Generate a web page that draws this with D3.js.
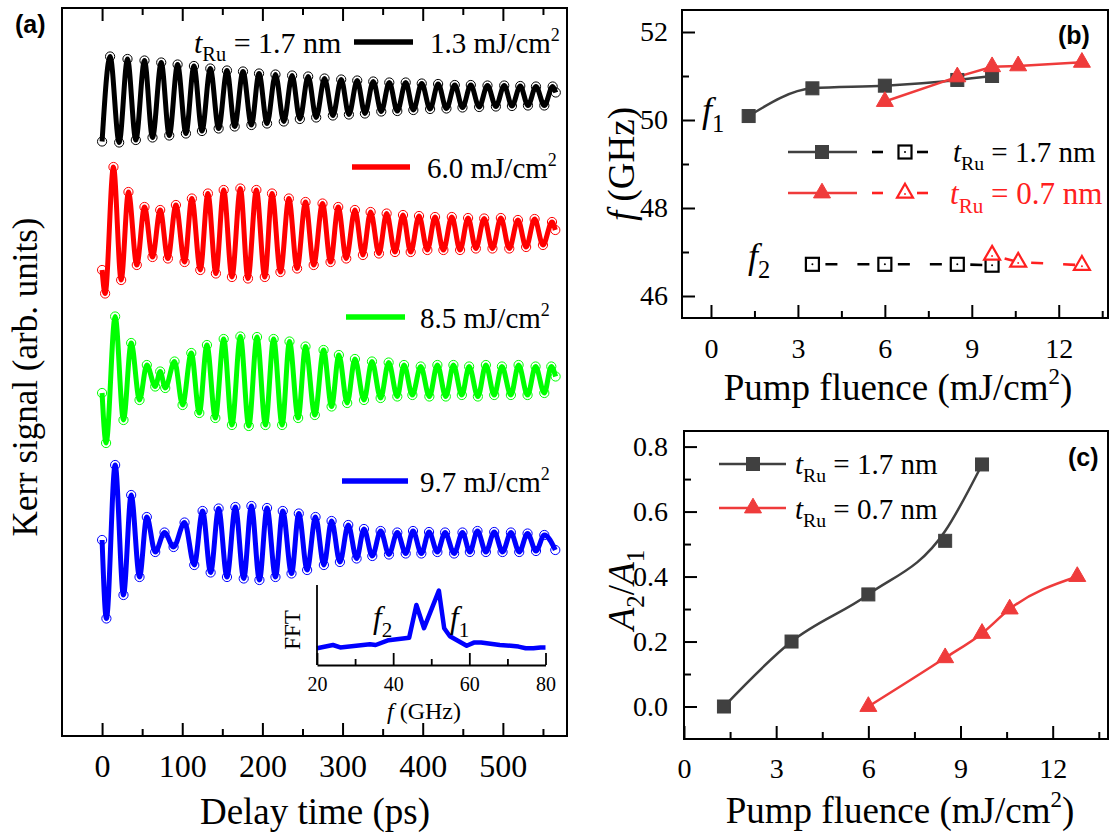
<!DOCTYPE html>
<html>
<head>
<meta charset="utf-8">
<script src="https://cdn.jsdelivr.net/npm/d3@7"></script>
<style>
  body { margin: 0; background: #fff; }
  svg { display: block; font-family: "Liberation Serif", "Times New Roman", serif; }
</style>
</head>
<body>
<svg id="fig" width="1112" height="833"></svg>
<script>
// ---------- data ----------
// (a) Kerr traces: [delay (ps), signal (arb.)] at the turning points of each trace
const kerr13 = [[0,-0.93],[10.0,0.77],[21.3,-0.95],[31.7,0.72],[42.1,-0.90],[52.9,0.69],[62.9,-0.85],[73.8,0.65],[83.8,-0.81],[94.2,0.61],[104.6,-0.77],[114.6,0.58],[124.6,-0.72],[135.0,0.53],[145.4,-0.67],[155.8,0.49],[165.4,-0.63],[175.8,0.47],[186.3,-0.60],[195.8,0.43],[205.8,-0.57],[216.3,0.41],[226.7,-0.53],[237.1,0.39],[246.7,-0.48],[257.1,0.37],[267.1,-0.45],[277.5,0.33],[287.9,-0.41],[298.3,0.31],[307.9,-0.39],[318.3,0.29],[327.9,-0.37],[338.3,0.27],[348.3,-0.33],[358.3,0.25],[368.3,-0.32],[378.8,0.25],[388.3,-0.30],[398.8,0.23],[409.2,-0.28],[419.2,0.22],[429.6,-0.27],[440.0,0.20],[449.6,-0.25],[460.0,0.20],[470.4,-0.24],[480.8,0.19],[491.3,-0.23],[501.7,0.19],[511.3,-0.22],[521.7,0.18],[531.3,-0.21],[541.3,0.17],[551.7,-0.21],[562.1,0.17],[566.0,0.05]];
const kerr60 = [[0,-0.73],[3.8,-1.20],[14.2,1.33],[23.8,-0.93],[32.9,0.83],[43.3,-0.63],[52.9,0.53],[62.9,-0.47],[72.5,0.47],[82.1,-0.50],[92.1,0.57],[102.9,-0.57],[112.0,0.70],[122.5,-0.73],[132.0,0.80],[142.0,-0.80],[151.7,0.87],[162.0,-0.87],[172.5,0.90],[182.0,-0.90],[192.5,0.87],[203.0,-0.87],[212.0,0.80],[222.5,-0.77],[233.0,0.70],[243.3,-0.70],[253.8,0.63],[264.0,-0.63],[275.0,0.60],[285.0,-0.57],[294.6,0.53],[304.6,-0.50],[315.4,0.47],[325.4,-0.43],[335.0,0.43],[345.4,-0.40],[355.0,0.40],[365.4,-0.37],[375.4,0.37],[385.0,-0.37],[395.4,0.35],[405.8,-0.33],[415.4,0.33],[425.8,-0.33],[436.3,0.33],[446.6,-0.33],[456.6,0.31],[466.3,-0.30],[476.7,0.30],[487.0,-0.30],[497.5,0.31],[508.0,-0.30],[518.8,0.27],[529.0,-0.27],[539.6,0.29],[550.0,-0.23],[561.3,0.23],[565.4,0.07]];
const kerr85 = [[0,-0.25],[5.0,-1.25],[16.3,1.28],[26.7,-0.79],[36.3,0.75],[46.7,-0.39],[55.8,0.31],[66.3,-0.12],[72.5,0.18],[78.8,-0.15],[90.4,0.38],[100.4,-0.49],[111.3,0.55],[121.3,-0.65],[130.8,0.71],[141.3,-0.75],[151.7,0.83],[162.0,-0.89],[172.5,0.88],[183.0,-0.91],[193.3,0.87],[203.8,-0.89],[214.0,0.83],[224.6,-0.89],[233.8,0.78],[244.6,-0.75],[253.8,0.68],[265.4,-0.69],[276.3,0.61],[286.3,-0.52],[295.4,0.51],[305.8,-0.45],[315.4,0.43],[326.7,-0.39],[336.7,0.38],[347.5,-0.35],[357.5,0.36],[368.3,-0.32],[376.7,0.31],[387.1,-0.29],[397.5,0.28],[408.3,-0.32],[418.3,0.31],[428.8,-0.32],[438.3,0.31],[448.8,-0.29],[457.9,0.28],[468.8,-0.32],[478.8,0.31],[489.2,-0.29],[498.8,0.28],[510.0,-0.29],[519.6,0.31],[530.8,-0.29],[540.8,0.28],[551.7,-0.25],[560.4,0.28],[565.8,0.08]];
const kerr97 = [[0,0.05],[5.4,-1.52],[16.3,1.55],[26.7,-1.05],[36.3,0.95],[46.7,-0.69],[55.8,0.51],[66.3,-0.19],[77.9,0.20],[89.2,-0.09],[102.9,0.40],[115.0,-0.45],[125.4,0.63],[135.4,-0.60],[145.4,0.68],[155.8,-0.69],[166.3,0.71],[176.7,-0.72],[186.3,0.73],[196.3,-0.75],[205.8,0.69],[216.3,-0.69],[225.4,0.63],[236.3,-0.62],[245.4,0.58],[255.8,-0.55],[266.3,0.51],[276.7,-0.45],[286.3,0.43],[296.7,-0.39],[307.1,0.35],[317.5,-0.32],[326.7,0.27],[337.1,-0.27],[347.5,0.23],[357.9,-0.24],[368.3,0.20],[378.8,-0.22],[387.9,0.23],[398.3,-0.22],[407.9,0.21],[418.3,-0.19],[427.9,0.20],[439.2,-0.22],[449.6,0.20],[458.8,-0.19],[468.3,0.23],[478.8,-0.19],[489.2,0.21],[499.6,-0.19],[510.0,0.20],[520.4,-0.19],[530.8,0.18],[541.3,-0.17],[551.7,0.15],[565.4,-0.15]];
const fluenceLabels = ["1.3", "6.0", "8.5", "9.7"];
const traceOffsets = [12.82, 10.05, 7.11, 3.87];   // vertical stacking, arb. units

// (a) inset FFT
const fftFreq = [20, 24.2, 26.1, 33.9, 35.4, 38.8, 44.2, 46.1, 48.1, 52.0, 53.4, 54.9, 59.3, 61.2, 63.1, 68.0, 70.9, 72.9, 74.8, 76.8, 78.7, 80];
const fftAmp  = [0.21, 0.25, 0.22, 0.26, 0.25, 0.31, 0.34, 0.75, 0.46, 0.93, 0.46, 0.36, 0.24, 0.28, 0.28, 0.25, 0.24, 0.23, 0.21, 0.21, 0.22, 0.22];

// (b) frequencies vs pump fluence
const fluence17 = [1.3, 3.5, 6.0, 8.5, 9.7];
const f1_17 = [50.09, 50.72, 50.78, 50.91, 51.0];
const fluence17f2 = [3.5, 6.0, 8.5, 9.7];
const f2_17 = [46.72, 46.72, 46.72, 46.70];
const fluence07 = [6.0, 8.5, 9.7, 10.6, 12.8];
const f1_07 = [50.42, 50.98, 51.21, 51.23, 51.31];
const fluence07f2 = [9.7, 10.6, 12.8];
const f2_07 = [46.93, 46.77, 46.70];

// (c) amplitude ratio A2/A1
const ratio17 = [0.0, 0.20, 0.345, 0.51, 0.745];
const ratio17guide = [0.0, 0.20, 0.345, 0.54, 0.745];
const ratio07 = [0.0, 0.15, 0.225, 0.30, 0.40];

// ticks
const delayTicks = [0, 100, 200, 300, 400, 500];
const delayMinor = [50, 150, 250, 350, 450, 550];
const fftTicks = [20, 40, 60, 80];
const fftMinor = [30, 50, 70];
const fluenceTicks = [0, 3, 6, 9, 12];
const fluenceMinor = [1.5, 4.5, 7.5, 10.5, 13.5];
const freqTicks = [46, 48, 50, 52];
const freqMinor = [47, 49, 51];
const ratioTicks = [0, 0.2, 0.4, 0.6, 0.8];
const ratioMinor = [0.1, 0.3, 0.5, 0.7];

// ---------- styling ----------
const SERIF = '"Liberation Serif", "Times New Roman", serif';
const SANS = '"Liberation Sans", Arial, sans-serif';
const traceColors = ["#000000", "#ff0000", "#00ff00", "#0000ff"];
const GREY = "#404040", RED = "#ef3b3b";

const svg = d3.select("#fig");

// text with italic / sub / superscript parts
function rich(parent, x, y, size, parts, color = "#000", anchor = "start") {
  const t = parent.append("text").attr("x", x).attr("y", y)
    .attr("font-size", size).attr("fill", color).attr("text-anchor", anchor);
  let shift = 0;
  parts.forEach(p => {
    let target = 0, fs = size;
    if (p.sub) { target = size * 0.28; fs = size * 0.68; }
    if (p.sup) { target = -size * 0.42; fs = size * 0.62; }
    const s = t.append("tspan").text(p.t).attr("font-size", fs);
    if (target - shift !== 0) s.attr("dy", target - shift);
    if (p.it) s.attr("font-style", "italic");
    shift = target;
  });
  return t;
}
const tRu = v => [{t: "t", it: true}, {t: "Ru", sub: true}, {t: " = " + v + " nm"}];

function axis(g, gen, scale, major, minor, transform, fontSize, pad, fmt) {
  const a = g.append("g").attr("transform", transform)
    .call(gen(scale).tickValues(major).tickSize(-13).tickPadding(pad).tickFormat(fmt));
  a.attr("font-family", SERIF).attr("font-size", fontSize);
  a.select(".domain").remove();
  a.selectAll("line").attr("stroke", "#000").attr("stroke-width", 2);
  a.selectAll("text").attr("fill", "#000");
  const m = g.append("g").attr("transform", transform)
    .call(gen(scale).tickValues(minor).tickSize(-7).tickFormat(""));
  m.select(".domain").remove();
  m.selectAll("line").attr("stroke", "#000").attr("stroke-width", 2);
}
function frame(g, x, y) {
  g.append("rect").attr("x", x.range()[0]).attr("y", y.range()[1])
    .attr("width", x.range()[1] - x.range()[0]).attr("height", y.range()[0] - y.range()[1])
    .attr("fill", "none").attr("stroke", "#000").attr("stroke-width", 2);
}

// ================= panel (a) =================
const xA = d3.scaleLinear().domain([-50, 580]).range([62, 567]);
const yA = d3.scaleLinear().domain([0, 14.56]).range([736, 8]);
const gA = svg.append("g");
const traces = [kerr13, kerr60, kerr85, kerr97];
const traceLine = d3.line().x(d => xA(d[0])).y(d => yA(d[1])).curve(d3.curveMonotoneX);

traces.forEach((tr, i) => {
  const pts = tr.map(d => [d[0], d[1] + traceOffsets[i]]);
  gA.append("g").selectAll("circle").data(pts).join("circle")
    .attr("cx", d => xA(d[0])).attr("cy", d => yA(d[1])).attr("r", 4.6)
    .attr("fill", "none").attr("stroke", traceColors[i]).attr("stroke-width", 1);
  gA.append("path").datum(pts).attr("d", traceLine)
    .attr("fill", "none").attr("stroke", traceColors[i])
    .attr("stroke-width", 5).attr("stroke-linejoin", "round");
});

axis(gA, d3.axisBottom, xA, delayTicks, delayMinor, "translate(0,736)", 32, 18, d3.format("d"));
axis(gA, d3.axisTop, xA, delayTicks, delayMinor, "translate(0,8)", 32, 0, "");
frame(gA, xA, yA);

// legend of (a)
const legendA = [
  {y: 42, x1: 354, x2: 413, tx: 430},
  {y: 167, x1: 352, x2: 410, tx: 427},
  {y: 317, x1: 346, x2: 405, tx: 420},
  {y: 481, x1: 342, x2: 408, tx: 420}
];
legendA.forEach((L, i) => {
  gA.append("line").attr("x1", L.x1).attr("x2", L.x2).attr("y1", L.y).attr("y2", L.y)
    .attr("stroke", traceColors[i]).attr("stroke-width", 5.5);
  rich(gA, L.tx, L.y + 11, 29, [{t: fluenceLabels[i] + " mJ/cm"}, {t: "2", sup: true}]);
});
rich(gA, 194, 53, 30, tRu("1.7"));

// inset FFT
const xI = d3.scaleLinear().domain([20, 80]).range([317, 545.5]);
const yI = d3.scaleLinear().domain([0, 1]).range([665, 585]);
const gI = svg.append("g");
gI.append("path").datum(fftFreq.map((f, i) => [f, fftAmp[i]]))
  .attr("d", d3.line().x(d => xI(d[0])).y(d => yI(d[1])))
  .attr("fill", "none").attr("stroke", "#0000ff").attr("stroke-width", 4.5)
  .attr("stroke-linejoin", "round");
const ia = gI.append("g").attr("transform", "translate(0,665)")
  .call(d3.axisBottom(xI).tickValues(fftTicks).tickSize(-12).tickSizeOuter(0).tickPadding(12).tickFormat(d3.format("d")));
ia.attr("font-family", SERIF).attr("font-size", 20);
ia.selectAll("line, path").attr("stroke", "#000").attr("stroke-width", 1.8);
ia.selectAll("text").attr("fill", "#000");
const im = gI.append("g").attr("transform", "translate(0,665)")
  .call(d3.axisBottom(xI).tickValues(fftMinor).tickSize(-6).tickFormat(""));
im.select(".domain").remove();
im.selectAll("line").attr("stroke", "#000").attr("stroke-width", 1.8);
gI.append("line").attr("x1", xI(20)).attr("x2", xI(20)).attr("y1", yI(0)).attr("y2", yI(1))
  .attr("stroke", "#000").attr("stroke-width", 1.8);
gI.append("text").attr("transform", "translate(300,630) rotate(-90)")
  .attr("text-anchor", "middle").attr("font-size", 23).text("FFT");
rich(gI, 424, 719, 24, [{t: "f", it: true}, {t: " (GHz)"}], "#000", "middle");
rich(gI, 373, 628, 31, [{t: "f", it: true}, {t: "2", sub: true}]);
rich(gI, 450, 628, 31, [{t: "f", it: true}, {t: "1", sub: true}]);

// axis titles (a)
svg.append("text").attr("transform", "translate(37,377) rotate(-90)")
  .attr("text-anchor", "middle").attr("font-size", 35).text("Kerr signal (arb. units)");
svg.append("text").attr("x", 315).attr("y", 824).attr("text-anchor", "middle")
  .attr("font-size", 37).text("Delay time (ps)");
svg.append("text").attr("x", 15).attr("y", 33).attr("font-family", SANS)
  .attr("font-weight", "bold").attr("font-size", 25).text("(a)");

// ================= panel (b) =================
const xB = d3.scaleLinear().domain([-1, 13.7]).range([682, 1108]);
const yB = d3.scaleLinear().domain([45.5, 52.5]).range([318, 10]);
const gB = svg.append("g");
axis(gB, d3.axisBottom, xB, fluenceTicks, fluenceMinor, "translate(0,318)", 28, 20, d3.format("d"));
axis(gB, d3.axisLeft, yB, freqTicks, freqMinor, "translate(682,0)", 28, 14, d3.format("d"));
frame(gB, xB, yB);

const smooth = d3.line().x(d => xB(d[0])).y(d => yB(d[1])).curve(d3.curveMonotoneX);
const straight = d3.line().x(d => xB(d[0])).y(d => yB(d[1]));
const b17 = fluence17.map((x, i) => [x, f1_17[i]]);
const b07 = fluence07.map((x, i) => [x, f1_07[i]]);
const b17f2 = fluence17f2.map((x, i) => [x, f2_17[i]]);
const b07f2 = fluence07f2.map((x, i) => [x, f2_07[i]]);

gB.append("path").datum(b17).attr("d", smooth).attr("fill", "none").attr("stroke", GREY).attr("stroke-width", 2.5);
gB.append("path").datum(b07).attr("d", straight).attr("fill", "none").attr("stroke", RED).attr("stroke-width", 2.5);

const DASH = "0 13 12 20 12 1000";
function dashed(g, pts, x, y, color) {
  g.append("g").selectAll("line").data(d3.pairs(pts)).join("line")
    .attr("x1", d => x(d[0][0])).attr("y1", d => y(d[0][1]))
    .attr("x2", d => x(d[1][0])).attr("y2", d => y(d[1][1]))
    .attr("stroke", color).attr("stroke-width", 2.6).attr("stroke-dasharray", DASH);
}
dashed(gB, b17f2, xB, yB, "#000");
dashed(gB, b07f2, xB, yB, "#ff2020");

const tri = d3.symbol(d3.symbolTriangle);
function squares(g, pts, x, y, filled, color) {
  g.append("g").selectAll("rect").data(pts).join("rect")
    .attr("x", d => x(d[0]) - 6.5).attr("y", d => y(d[1]) - 6.5)
    .attr("width", 13).attr("height", 13)
    .attr("fill", filled ? color : "#fff").attr("stroke", color).attr("stroke-width", filled ? 1 : 2.2);
  if (!filled) g.append("g").selectAll("circle").data(pts).join("circle")
    .attr("cx", d => x(d[0])).attr("cy", d => y(d[1])).attr("r", 1).attr("fill", color);
}
function triangles(g, pts, x, y, filled, color) {
  g.append("g").selectAll("path").data(pts).join("path")
    .attr("transform", d => `translate(${x(d[0])},${y(d[1])})`)
    .attr("d", tri.size(filled ? 125 : 110)())
    .attr("fill", filled ? color : "#fff").attr("stroke", color).attr("stroke-width", filled ? 1 : 2.2);
  if (!filled) g.append("g").selectAll("circle").data(pts).join("circle")
    .attr("cx", d => x(d[0])).attr("cy", d => y(d[1]) + 1).attr("r", 1).attr("fill", color);
}
squares(gB, b17, xB, yB, true, GREY);
triangles(gB, b07, xB, yB, true, RED);
squares(gB, b17f2, xB, yB, false, "#000");
triangles(gB, b07f2, xB, yB, false, "#ff2020");

// legend (b)
function legendRow(g, y, color, openColor, marker) {
  g.append("line").attr("x1", 788).attr("x2", 857).attr("y1", y).attr("y2", y)
    .attr("stroke", color).attr("stroke-width", 2.5);
  [[872, 883], [917, 928]].forEach(s => g.append("line").attr("x1", s[0]).attr("x2", s[1])
    .attr("y1", y).attr("y2", y).attr("stroke", openColor).attr("stroke-width", 2.6));
  const id = d3.scaleIdentity();
  marker(g, [[822, y]], id, id, true, color);
  marker(g, [[905, y]], id, id, false, openColor);
}
legendRow(gB, 152, GREY, "#000", squares);
legendRow(gB, 193, RED, "#ff2020", triangles);
rich(gB, 953, 162, 29, tRu("1.7"));
rich(gB, 950, 204, 31, tRu("0.7"), "#ff2020");
rich(gB, 702, 122, 36, [{t: "f", it: true}, {t: "1", sub: true}]);
rich(gB, 748, 268, 36, [{t: "f", it: true}, {t: "2", sub: true}]);
gB.append("text").attr("x", 1058).attr("y", 44).attr("font-family", SANS)
  .attr("font-weight", "bold").attr("font-size", 25).text("(b)");
rich(svg, 898, 400, 37, [{t: "Pump fluence (mJ/cm"}, {t: "2", sup: true}, {t: ")"}], "#000", "middle");
rich(svg, 0, 0, 37, [{t: "f", it: true}, {t: " (GHz)"}], "#000", "middle")
  .attr("transform", "translate(634,164) rotate(-90)");

// ================= panel (c) =================
const xC = d3.scaleLinear().domain([0, 13.8]).range([684, 1108]);
const yC = d3.scaleLinear().domain([-0.1, 0.848]).range([739, 431]);
const gC = svg.append("g");
axis(gC, d3.axisBottom, xC, fluenceTicks, fluenceMinor, "translate(0,739)", 28, 19, d3.format("d"));
axis(gC, d3.axisLeft, yC, ratioTicks, ratioMinor, "translate(684,0)", 28, 16, d3.format(".1f"));
frame(gC, xC, yC);

const smoothC = d3.line().x(d => xC(d[0])).y(d => yC(d[1])).curve(d3.curveMonotoneX);
const c17 = fluence17.map((x, i) => [x, ratio17[i]]);
const c17g = fluence17.map((x, i) => [x, ratio17guide[i]]);
const c07 = fluence07.map((x, i) => [x, ratio07[i]]);
gC.append("path").datum(c17g).attr("d", smoothC).attr("fill", "none").attr("stroke", GREY).attr("stroke-width", 2.5);
gC.append("path").datum(c07).attr("d", smoothC).attr("fill", "none").attr("stroke", RED).attr("stroke-width", 2.5);
squares(gC, c17, xC, yC, true, GREY);
triangles(gC, c07, xC, yC, true, RED);

const idS = d3.scaleIdentity();
[[464, GREY, squares], [508, RED, triangles]].forEach(r => {
  gC.append("line").attr("x1", 719).attr("x2", 786).attr("y1", r[0]).attr("y2", r[0])
    .attr("stroke", r[1]).attr("stroke-width", 2.5);
  r[2](gC, [[753, r[0]]], idS, idS, true, r[1]);
});
rich(gC, 795, 474, 29, tRu("1.7"));
rich(gC, 795, 519, 29, tRu("0.7"));
gC.append("text").attr("x", 1068).attr("y", 466).attr("font-family", SANS)
  .attr("font-weight", "bold").attr("font-size", 25).text("(c)");
rich(svg, 900, 823, 37, [{t: "Pump fluence (mJ/cm"}, {t: "2", sup: true}, {t: ")"}], "#000", "middle");
rich(svg, 0, 0, 37, [{t: "A", it: true}, {t: "2", sub: true}, {t: "/"}, {t: "A", it: true}, {t: "1", sub: true}], "#000", "middle")
  .attr("transform", "translate(634,590) rotate(-90)");
</script>
</body>
</html>
